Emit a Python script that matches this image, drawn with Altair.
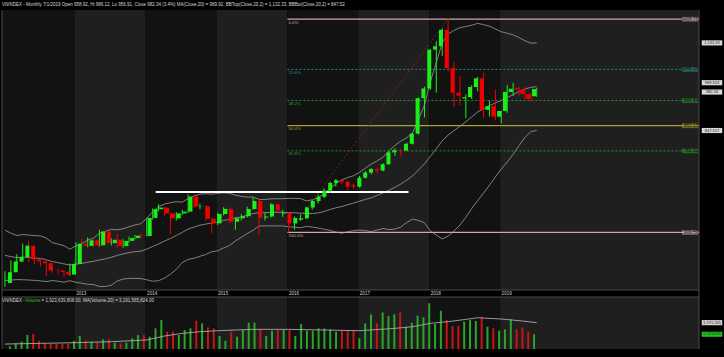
import altair as alt
import pandas as pd

# ---------------- data ----------------
years = list(range(2012, 2020))
months = [f"{y}-{m:02d}" for y in years for m in range(1, 13)][:91]

open_ = [351.6, 387.1, 421.4, 436.4, 473.3, 428.7, 422.1, 416.2, 392.9, 392.6, 388.3, 379.3,
         413.7, 479.8, 472.5, 490.6, 474.2, 519.3, 481.1, 492.5, 471.8, 488.6, 497.9, 505.6,
         504.6, 563.4, 592.1, 597.0, 578.0, 562.1, 578.1, 584.0, 633.0, 600.3, 601.0, 561.0,
         545.6, 576.1, 592.9, 551.0, 562.3, 569.0, 592.6, 618.4, 564.6, 568.0, 607.4, 577.0,
         579.0, 545.3, 558.0, 562.4, 597.4, 618.5, 632.3, 652.2, 677.2, 685.5, 680.5, 670.0,
         664.9, 694.0, 710.8, 722.3, 717.7, 737.8, 776.5, 783.3, 782.6, 804.4, 837.4, 952.6,
         984.2, 1110.4, 1121.5, 1174.5, 1050.6, 970.3, 952.0, 955.8, 989.0, 1017.1, 914.8, 926.5,
         892.5, 910.9, 973.0, 985.0, 980.8, 965.5, 958.92]
high_ = [390, 425, 445, 480, 490, 437, 432, 425, 406, 398, 392, 415,
         484, 495, 500, 497, 525, 520, 497, 510, 494, 503, 508, 513,
         564, 594, 608, 600, 580, 582, 590, 640, 640, 610, 605, 565,
         580, 598, 598, 566, 576, 600, 630, 625, 580, 612, 610, 590,
         582, 568, 575, 600, 622, 640, 660, 680, 690, 690, 685, 675,
         700, 716, 725, 727, 741, 781, 790, 788, 808, 838, 955, 990,
         1111, 1138, 1180, 1209.76, 1070, 1025, 965, 995, 1022, 1035, 945, 980,
         912, 995, 1003, 990, 990, 970, 986.12]
low_ = [340, 383, 415, 430, 420, 412, 406, 375, 385, 380, 370, 375,
        412, 470, 468, 469, 470, 476, 474, 466, 466, 483, 494, 496,
        503, 558, 585, 570, 511, 555, 572, 580, 596, 592, 555, 515,
        540, 572, 546, 525, 555, 565, 590, 510, 555, 565, 582, 567,
        516.46, 525, 553, 560, 590, 610, 628, 645, 665, 672, 655, 657,
        662, 692, 705, 708, 715, 737, 765, 763, 780, 802, 835, 890,
        980, 970, 1090, 1040, 925, 930, 888, 950, 975, 889, 893, 880,
        871, 905, 960, 960, 950, 941, 956.91]
close_ = [387.1, 421.4, 436.4, 473.3, 428.7, 422.1, 416.2, 392.9, 392.6, 388.3, 379.3, 413.7,
          479.8, 472.5, 490.6, 474.2, 519.3, 481.1, 492.5, 471.8, 488.6, 497.9, 505.6, 504.6,
          563.4, 592.1, 597.0, 578.0, 562.1, 578.1, 584.0, 633.0, 600.3, 601.0, 561.0, 545.6,
          576.1, 592.9, 551.0, 562.3, 569.0, 592.6, 618.4, 564.6, 568.0, 607.4, 588.0, 579.0,
          545.3, 563.0, 562.4, 597.4, 618.5, 632.3, 652.2, 677.2, 685.5, 680.5, 665.4, 664.9,
          694.0, 710.8, 722.3, 717.7, 737.8, 776.5, 783.3, 782.6, 804.4, 837.4, 952.6, 984.2,
          1110.4, 1121.5, 1174.5, 1050.6, 970.3, 960.8, 955.8, 989.0, 1017.1, 914.8, 926.5, 892.5,
          910.9, 973.0, 983.5, 980.8, 965.5, 949.9, 982.34]
ma20 = [441.8, 437.5, 434.5, 435.9, 434.6, 433.1, 431.8, 427.3, 421.5, 417.9, 413.8, 410.4,
        413.3, 415.3, 419.5, 422.4, 427.0, 430.1, 435.5, 441.5, 446.6, 450.4, 453.8, 455.4,
        462.1, 470.6, 479.0, 488.2, 496.6, 506.1, 516.4, 527.4, 533.4, 539.8, 543.4, 547.0,
        549.8, 555.4, 558.4, 562.9, 566.9, 571.7, 577.4, 580.3, 580.6, 581.3, 581.6, 581.7,
        580.8, 580.1, 579.0, 577.2, 578.1, 579.6, 584.2, 590.7, 596.2, 600.6, 606.3, 611.4,
        617.7, 623.6, 628.8, 636.5, 645.0, 653.5, 663.2, 673.4, 686.4, 700.1, 719.6, 739.0,
        763.6, 788.0, 814.1, 832.8, 847.0, 861.0, 875.6, 891.8, 907.9, 918.1, 928.3, 937.0,
        945.6, 954.4, 964.3, 974.2, 982.2, 987.9, 989.9]
bb_top = [523.6, 513.9, 506.1, 509.3, 507.6, 505.9, 504.8, 498.1, 483.1, 478.3, 473.2, 461.4,
          472.5, 479.5, 491.3, 498.0, 513.6, 519.7, 526.3, 524.7, 528.4, 534.2, 540.6, 544.6,
          561.9, 583.4, 598.8, 608.6, 612.6, 616.1, 614.6, 626.2, 634.4, 640.8, 642.2, 640.4,
          643.2, 645.0, 643.2, 637.5, 633.5, 630.9, 631.4, 623.5, 623.4, 625.3, 625.8, 625.9,
          627.0, 626.9, 626.4, 618.6, 622.3, 628.8, 641.8, 658.3, 675.0, 687.4, 694.3, 700.6,
          711.5, 725.0, 738.8, 748.9, 761.0, 781.5, 799.2, 813.2, 824.2, 840.5, 884.4, 930.4,
          1006.2, 1068.2, 1133.3, 1161.2, 1173.4, 1181.6, 1185.6, 1189.6, 1195.9, 1191.7, 1186.7, 1177.6,
          1168.8, 1163.6, 1158.5, 1149.6, 1139.4, 1131.5, 1132.3]
bb_bot = [360.0, 361.1, 362.9, 362.5, 361.6, 360.3, 358.8, 356.5, 359.9, 357.5, 354.4, 359.4,
          354.1, 351.1, 347.7, 346.8, 340.4, 340.5, 344.7, 358.3, 364.8, 366.6, 367.0, 366.2,
          362.3, 357.8, 359.2, 367.8, 380.6, 396.1, 418.2, 428.6, 432.4, 438.8, 444.6, 453.6,
          456.4, 465.8, 473.6, 488.3, 500.3, 512.5, 523.4, 537.1, 537.8, 537.3, 537.4, 537.5,
          534.6, 533.3, 531.6, 535.8, 533.9, 530.4, 526.6, 523.1, 517.4, 513.8, 518.3, 522.2,
          523.9, 522.2, 518.8, 524.1, 529.0, 525.5, 527.2, 533.6, 548.6, 559.7, 554.8, 547.6,
          521.0, 507.8, 494.9, 504.4, 520.6, 540.4, 565.6, 594.0, 619.9, 644.5, 669.9, 696.4,
          722.4, 745.2, 770.1, 798.8, 825.0, 844.3, 847.5]
# volume, billions of shares
volume = [0.60, 0.93, 1.11, 1.84, 1.95, 1.22, 0.93, 0.86, 0.86, 0.86, 0.86, 1.19,
          1.73, 1.22, 1.11, 1.00, 1.37, 1.37, 1.00, 0.93, 1.00, 1.48, 1.84, 1.84,
          1.66, 2.57, 3.48, 2.20, 2.20, 1.84, 2.39, 2.57, 3.41, 3.12, 2.68, 2.57,
          1.73, 1.22, 2.20, 1.66, 2.39, 3.19, 3.19, 2.46, 1.73, 2.31, 2.39, 2.39,
          2.39, 1.73, 3.04, 2.31, 2.31, 2.57, 2.57, 2.46, 2.20, 2.39, 2.39, 2.39,
          1.48, 3.12, 4.09, 3.12, 4.31, 3.90, 4.09, 4.31, 2.75, 3.19, 3.96, 3.78,
          5.32, 3.04, 4.49, 3.48, 2.82, 2.82, 3.30, 3.48, 3.37, 3.78, 2.75, 2.57,
          2.31, 2.46, 3.55, 2.46, 2.68, 2.20, 1.92]
vma_i = [0, 6, 12, 18, 24, 27, 30, 33, 36, 42, 48, 54, 60, 66, 69, 72, 75, 78, 80, 84, 87, 90]
vma_v = [0.85, 0.93, 1.00, 1.11, 1.30, 1.73, 2.02, 2.20, 2.31, 2.46, 2.46, 2.39, 2.31, 2.57,
         2.75, 3.12, 3.30, 3.55, 3.73, 3.59, 3.41, 3.19]

fib_pct = ["0.0%", "23.6%", "38.2%", "50.0%", "61.8%", "100.0%"]
fib_val = [1209.76, 1046.16, 944.94, 863.13, 781.32, 516.46]
fib_txt = ["1209.76", "1046.16", "944.94", "863.13", "781.32", "516.46"]
fib_col = ["#c9a9b1", "#2f8f8f", "#2e9e2e", "#a8a232", "#2e9e2e", "#c9a9b1"]
fib_dash = [[1, 0], [2, 2], [2, 2], [1, 0], [2, 2], [1, 0]]
fib_start = 48          # Jan 2016 low
fib_end_line = 75       # Apr 2018 high (trend line)
support_val = 648.0
support_from, support_to = 25.5, 68.3

year_labels = [str(y) for y in years]

right_txt = ["1,132.33", "989.924", "982.34", "847.517"]
right_val = [1132.33, 989.924, 982.34, 847.517]
right_shift = [0, -4, 3, 0]

header = ("VNINDEX - Monthly 7/1/2019 Open 958.92, Hi 986.12, Lo 956.91, Close 982.34 (3.4%) "
          "MA(Close,20) = 989.92, BBTop(Close,20,2) = 1,132.33, BBBot(Close,20,2) = 847.52")
vol_head_1 = "VNINDEX - "
vol_head_2 = "Volume"
vol_head_3 = " = 1,923,639,808.00, MA(Volume,20) = 3,191,565,824.00"

# ---------------- frames ----------------
df = pd.DataFrame({"i": range(91), "month": months, "open": open_, "high": high_,
                   "low": low_, "close": close_, "ma": ma20, "bbu": bb_top, "bbl": bb_bot,
                   "vol": volume})
df["dir"] = ["up" if c >= o else "down" for o, c in zip(open_, close_)]
dvma = pd.DataFrame({"i": vma_i, "v": vma_v})

PMIN, PMAX = 329.1, 1239.3
VMIN, VMAX = 0.31, 6.0
X = alt.Scale(domain=[-0.5, 117.46], range=[2, 699])
YP = alt.Scale(domain=[PMIN, PMAX], range=[290, 10])
YV = alt.Scale(domain=[VMIN, VMAX], range=[349, 297])

band_start = [-0.5] + [(y - 2012) * 12 - 0.2 for y in years[1:]]
band_end = band_start[1:] + [117.46]
bands = pd.DataFrame({"s": band_start, "e": band_end,
                      "c": ["#121212" if k % 2 == 0 else "#1f1f1f" for k in range(len(years))],
                      "lab": year_labels})
GREEN, RED = "#19f019", "#f00000"
col = alt.Color("dir:N", scale=alt.Scale(domain=["up", "down"], range=[GREEN, RED]), legend=None)
vcol = alt.Color("dir:N", scale=alt.Scale(domain=["up", "down"], range=["#2aa52a", "#c81414"]), legend=None)

base = alt.Chart(df)
layers = []

# panel backgrounds (year bands)
layers.append(alt.Chart(bands).mark_rect().encode(
    x=alt.X("s:Q", scale=X, axis=None), x2="e:Q",
    y=alt.Y("lo:Q", scale=YP, axis=None), y2="hi:Q",
    color=alt.Color("c:N", scale=None)).transform_calculate(lo=str(PMIN), hi=str(PMAX)))
layers.append(alt.Chart(bands).mark_rect().encode(
    x=alt.X("s:Q", scale=X, axis=None), x2="e:Q",
    y=alt.Y("lo:Q", scale=YV, axis=None), y2="hi:Q",
    color=alt.Color("c:N", scale=None)).transform_calculate(lo=str(VMIN), hi=str(VMAX)))
# separators
layers.append(alt.Chart(pd.DataFrame({"v": [PMIN]})).mark_rule(color="#4a4a4a", strokeWidth=1).encode(
    x=alt.value(2), x2=alt.value(699), y=alt.Y("v:Q", scale=YP, axis=None)))
layers.append(alt.Chart(pd.DataFrame({"v": [VMAX]})).mark_rule(color="#4a4a4a", strokeWidth=1).encode(
    x=alt.value(2), x2=alt.value(699), y=alt.Y("v:Q", scale=YV, axis=None)))
layers.append(alt.Chart(pd.DataFrame({"v": [-0.5, 117.46]})).mark_rule(color="#4a4a4a", strokeWidth=1).encode(
    x=alt.X("v:Q", scale=X, axis=None), y=alt.value(10), y2=alt.value(349)))

# year labels
layers.append(alt.Chart(bands[1:]).mark_text(align="left", baseline="middle", dx=1.5,
                                              fontSize=4.6, font="Liberation Sans", color="#cfcfcf").encode(
    x=alt.X("s:Q", scale=X, axis=None), y=alt.value(293.5), text="lab:N"))

# Bollinger bands and MA
for fld in ["bbu", "ma", "bbl"]:
    layers.append(base.mark_line(color="#9c9c9c", strokeWidth=0.8).encode(
        x=alt.X("i:Q", scale=X, axis=None), y=alt.Y(f"{fld}:Q", scale=YP, axis=None)))

# fib levels
fib_df = pd.DataFrame({"v": fib_val, "p": fib_pct, "t": fib_txt, "c": fib_col})
for k in range(len(fib_val)):
    sub = fib_df.iloc[[k]]
    layers.append(alt.Chart(sub).mark_rule(strokeWidth=1.3 if fib_dash[k][1] == 0 else 0.9,
                                           strokeDash=fib_dash[k], color=fib_col[k]).encode(
        x=alt.X("s:Q", scale=X, axis=None), x2="e:Q", y=alt.Y("v:Q", scale=YP, axis=None)
    ).transform_calculate(s=str(fib_start - 0.2), e="117.46"))
layers.append(alt.Chart(fib_df).mark_text(align="left", baseline="top", dy=1.5, dx=1,
                                          fontSize=4.4, font="Liberation Sans").encode(
    x=alt.X("s:Q", scale=X, axis=None), y=alt.Y("v:Q", scale=YP, axis=None),
    text="p:N", color=alt.Color("c:N", scale=None)).transform_calculate(s=str(fib_start - 0.2)))
layers.append(alt.Chart(fib_df).mark_point(shape="M-1,-0.3H1V0.3H-1Z", filled=True, size=260,
                                           opacity=0.55).encode(
    x=alt.value(690), y=alt.Y("v:Q", scale=YP, axis=None), color=alt.Color("c:N", scale=None)))
layers.append(alt.Chart(fib_df).mark_text(align="right", baseline="middle", fontSize=4.6,
                                          font="Liberation Sans", color="#101010").encode(
    x=alt.value(698), y=alt.Y("v:Q", scale=YP, axis=None), text="t:N"))

# trend line (Jan 2016 low -> Apr 2018 high)
trend = pd.DataFrame({"i": [fib_start, fib_end_line], "v": [fib_val[-1], fib_val[0]]})
layers.append(alt.Chart(trend).mark_line(color="#b02020", strokeWidth=0.7, strokeDash=[2, 2]).encode(
    x=alt.X("i:Q", scale=X, axis=None), y=alt.Y("v:Q", scale=YP, axis=None)))

# support line
sup = pd.DataFrame({"a": [support_from], "b": [support_to], "v": [support_val]})
layers.append(alt.Chart(sup).mark_rule(color="#ffffff", strokeWidth=2).encode(
    x=alt.X("a:Q", scale=X, axis=None), x2="b:Q", y=alt.Y("v:Q", scale=YP, axis=None)))

# candles
layers.append(base.mark_rule(strokeWidth=1).encode(
    x=alt.X("i:Q", scale=X, axis=None), y=alt.Y("low:Q", scale=YP, axis=None), y2="high:Q", color=col))
layers.append(base.mark_bar(size=4).encode(
    x=alt.X("i:Q", scale=X, axis=None), y=alt.Y("open:Q", scale=YP, axis=None), y2="close:Q", color=col))

# volume
layers.append(base.mark_bar(size=2).encode(
    x=alt.X("i:Q", scale=X, axis=None), y=alt.Y("vol:Q", scale=YV, axis=None), y2="vb:Q",
    color=vcol).transform_calculate(vb=str(VMIN)))
layers.append(alt.Chart(dvma).mark_line(color="#a8a8a8", strokeWidth=0.9).encode(
    x=alt.X("i:Q", scale=X, axis=None), y=alt.Y("v:Q", scale=YV, axis=None)))

# right-side value labels (one layer each, small vertical shift to avoid collisions)
for k in range(len(right_val)):
    sub = pd.DataFrame({"v": [right_val[k]], "t": [right_txt[k]]})
    layers.append(alt.Chart(sub).mark_point(shape="M-1,-0.25H1V0.25H-1Z", filled=True, size=420,
                                            color="#d6d6d6", opacity=1, yOffset=right_shift[k]).encode(
        x=alt.value(712), y=alt.Y("v:Q", scale=YP, axis=None)))
    layers.append(alt.Chart(sub).mark_text(align="center", baseline="middle", fontSize=4.0,
                                           font="Liberation Sans", color="#222222",
                                           dy=right_shift[k]).encode(
        x=alt.value(712), y=alt.Y("v:Q", scale=YP, axis=None), text="t:N"))
vr = pd.DataFrame({"v": [3.1916, 1.9236], "t": ["3,191,565", "1,923,639"],
                   "bg": ["#d6d6d6", "#22c322"], "fg": ["#222222", "#0a3a0a"]})
layers.append(alt.Chart(vr).mark_point(shape="M-1,-0.25H1V0.25H-1Z", filled=True, size=420, opacity=1).encode(
    x=alt.value(712), y=alt.Y("v:Q", scale=YV, axis=None), color=alt.Color("bg:N", scale=None)))
layers.append(alt.Chart(vr).mark_text(align="center", baseline="middle", fontSize=4.0,
                                      font="Liberation Sans").encode(
    x=alt.value(712), y=alt.Y("v:Q", scale=YV, axis=None), text="t:N",
    color=alt.Color("fg:N", scale=None)))

# headers
layers.append(alt.Chart(pd.DataFrame({"t": [header]})).mark_text(
    align="left", baseline="middle", fontSize=4.5, font="Liberation Sans", color="#d8d8d8").encode(
    x=alt.value(2), y=alt.value(4.5), text="t:N"))
vh = pd.DataFrame({"t": [vol_head_1, vol_head_2, vol_head_3],
                   "x": [2, 25.5, 41.5], "c": ["#d8d8d8", "#22c322", "#d8d8d8"]})
layers.append(alt.Chart(vh).mark_text(align="left", baseline="middle", fontSize=4.5,
                                      font="Liberation Sans").encode(
    x=alt.X("x:Q", scale=None, axis=None), y=alt.value(300.5), text="t:N",
    color=alt.Color("c:N", scale=None)))

chart = alt.layer(*layers).resolve_scale(y="independent", x="independent", color="independent").properties(
    width=724, height=357, padding=0, background="#000000"
).configure_view(stroke=None)

chart.save("out.html", embed_options={"renderer": "svg", "actions": False})
